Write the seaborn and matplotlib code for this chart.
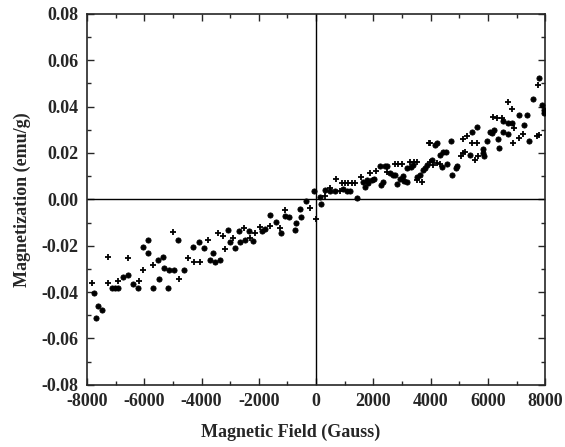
import seaborn as sns
import numpy as np
import pandas as pd
import matplotlib.pyplot as plt
from matplotlib.ticker import MultipleLocator, FormatStrFormatter

# Filled-dot series (field in Gauss, magnetization in emu/g)
dot_field = [-7766, -7605, -7466, -7675, -7116, -7022, -6907, -6732, -6578, -6383,
             -6208, -6033, -5859, -5859, -5684, -5509, -5335, -5485, -5300, -4810,
             -5135, -4971, -5160, -4601, -4287, -4087, -3913, -3588, -3703, -3529,
             -3354, -3064, -3004, -2830, -2680, -2655, -2481, -2330, -2190, -1897,
             -1782, -1607, -1398, -1223, -1083, -933, -734, -699, -559, -524,
             -349, -59, 165, 140, 314, 489, 664, 943, 1093, 1188,
             1422, 1652, 1792, 1946, 2026, 1712, 1827, 2236, 2410, 2491,
             2260, 2330, 2585, 2700, 2759, 2819, 2934, 3074, 3168, 3050,
             3189, 3308, 3399, 3518, 3633, 3749, 3808, 3867, 4042, 4391,
             4566, 4157, 4216, 4332, 4447, 4541, 4706, 4741, 4915, 4890,
             5439, 5614, 5380, 5823, 5844, 5869, 5963, 6079, 6194, 6137,
             6368, 6403, 6522, 6717, 6836, 6543, 6717, 7067, 7242, 7361,
             7417, 7556, 7766, 7884, 7940, 7940]
dot_mag = [-0.0402, -0.0459, -0.0477, -0.0510, -0.0383, -0.0383, -0.0383, -0.0333, -0.0326, -0.0364,
           -0.0383, -0.0204, -0.0175, -0.0232, -0.0383, -0.0261, -0.0247, -0.0343, -0.0297, -0.0175,
           -0.0304, -0.0304, -0.0383, -0.0304, -0.0204, -0.0182, -0.0210, -0.0232, -0.0261, -0.0268,
           -0.0261, -0.0132, -0.0186, -0.0210, -0.0135, -0.0186, -0.0175, -0.0135, -0.0178, -0.0135,
           -0.0129, -0.0067, -0.0098, -0.0143, -0.0071, -0.0077, -0.0132, -0.0103, -0.0042, -0.0074,
           -0.0009, 0.0034, -0.0022, 0.0012, 0.0041, 0.0034, 0.0034, 0.0044, 0.0038, 0.0038,
           0.0005, 0.0077, 0.0084, 0.0084, 0.0087, 0.0055, 0.0070, 0.0144, 0.0144, 0.0144,
           0.0063, 0.0074, 0.0113, 0.0106, 0.0106, 0.0066, 0.0087, 0.0081, 0.0077, 0.0101,
           0.0135, 0.0141, 0.0149, 0.0098, 0.0106, 0.0127, 0.0135, 0.0149, 0.0170, 0.0141,
           0.0153, 0.0235, 0.0242, 0.0192, 0.0206, 0.0206, 0.0252, 0.0106, 0.0144, 0.0135,
           0.0292, 0.0311, 0.0192, 0.0216, 0.0199, 0.0185, 0.0252, 0.0292, 0.0300, 0.0285,
           0.0260, 0.0221, 0.0340, 0.0329, 0.0331, 0.0292, 0.0282, 0.0364, 0.0321, 0.0364,
           0.0252, 0.0432, 0.0523, 0.0408, 0.0386, 0.0372]

# Plus-marker series
plus_field = [-7836, -7277, -7256, -6907, -6557, -6184, -6033, -5684, -4985, -4786,
              -4461, -4252, -4053, -3763, -3413, -3238, -3179, -2889, -2505, -2306,
              -2131, -1956, -1607, -1258, -1083, -210, 0, 314, 489, 699,
              898, 1013, 1128, 1247, 1362, 838, 1561, 1886, 2096, 2470,
              2759, 2875, 2994, 3284, 3423, 3518, 3518, 3693, 3958, 3983,
              4098, 4216, 4332, 3983, 5055, 5146, 5205, 5125, 5265, 5439,
              5614, 5554, 5669, 6173, 6333, 6487, 6683, 6836, 6871, 7067,
              6917, 7221, 7710, 7731, 7766]
plus_mag = [-0.0359, -0.0359, -0.0249, -0.0351, -0.0251, -0.0353, -0.0304, -0.0282, -0.0141, -0.0343,
            -0.0251, -0.0270, -0.0270, -0.0175, -0.0143, -0.0160, -0.0215, -0.0165, -0.0124, -0.0165,
            -0.0146, -0.0120, -0.0114, -0.0124, -0.0048, -0.0038, -0.0085, 0.0015, 0.0048, 0.0087,
            0.0070, 0.0070, 0.0070, 0.0070, 0.0070, 0.0034, 0.0096, 0.0113, 0.0124, 0.0116,
            0.0153, 0.0153, 0.0153, 0.0163, 0.0163, 0.0163, 0.0084, 0.0077, 0.0242, 0.0163,
            0.0149, 0.0156, 0.0153, 0.0245, 0.0185, 0.0199, 0.0206, 0.0261, 0.0274, 0.0242,
            0.0242, 0.0170, 0.0185, 0.0354, 0.0350, 0.0350, 0.0422, 0.0389, 0.0242, 0.0264,
            0.0307, 0.0282, 0.0274, 0.0494, 0.0278]

dots = pd.DataFrame({'field': dot_field, 'mag': dot_mag})
pluses = pd.DataFrame({'field': plus_field, 'mag': plus_mag})

sns.set_style('ticks')
plt.rcParams['font.family'] = ['Liberation Serif', 'DejaVu Serif']
plt.rcParams['font.weight'] = 'bold'
plt.rcParams['axes.unicode_minus'] = False

fig = plt.figure(figsize=(5.65, 4.47), dpi=100)
ax = fig.add_axes([0.154, 0.139, 0.811, 0.830])

ax.axhline(0, color='black', lw=1.0, zorder=1)
ax.axvline(0, color='black', lw=1.0, zorder=1)

sns.scatterplot(data=dots, x='field', y='mag', ax=ax, marker='o', s=14,
                color='black', edgecolor='black', linewidth=0.6, zorder=3)
sns.scatterplot(data=pluses, x='field', y='mag', ax=ax, marker='+', s=20,
                color='black', linewidth=1.3, zorder=3)

ax.set_xlim(-8000, 8000)
ax.set_ylim(-0.08, 0.08)
ax.xaxis.set_major_locator(MultipleLocator(2000))
ax.xaxis.set_minor_locator(MultipleLocator(1000))
ax.yaxis.set_major_locator(MultipleLocator(0.02))
ax.yaxis.set_minor_locator(MultipleLocator(0.01))
ax.yaxis.set_major_formatter(FormatStrFormatter('%.2f'))

ax.tick_params(which='both', direction='in', top=True, right=True, width=1.0)
ax.tick_params(which='major', length=5, labelsize=13, pad=6)
ax.tick_params(which='minor', length=3)
for lab in ax.get_xticklabels() + ax.get_yticklabels():
    lab.set_fontweight('bold')
for sp in ax.spines.values():
    sp.set_linewidth(1.2)

ax.set_xlabel('Magnetic Field (Gauss)', fontsize=13, fontweight='bold', labelpad=12)
ax.xaxis.set_label_coords(0.445, -0.105)
ax.set_ylabel('Magnetization (emu/g)', fontsize=13, fontweight='bold', labelpad=8)

fig.savefig('out.png', dpi=100)
